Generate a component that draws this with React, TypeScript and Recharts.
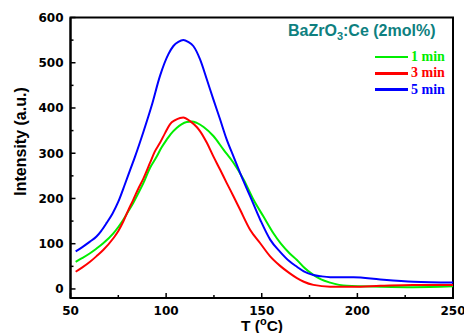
import React from "react";
import {
  LineChart,
  Line,
  XAxis,
  YAxis,
  ReferenceArea,
} from "recharts";

// temperatures (°C) and intensities
const t1 = [52.7, 56, 60.2, 63.5, 67.1, 72.4, 75, 77.6, 80, 82.8, 85.5, 88.1, 91.6, 95, 97.5, 100.3, 102.5, 105.5, 108, 110.8, 113.5, 116, 119.6, 124.7, 130, 135.2, 140.5, 145.7, 150.9, 156.1, 160, 164.5, 168.4, 172, 177, 181, 185.8, 194.5, 212, 229, 250];
const v1 = [60, 68, 79, 89, 101, 123, 137, 153, 170, 190, 212, 234, 268, 292, 312, 330, 343, 356, 364, 369, 370, 367, 358, 338, 308, 279, 242, 197, 160, 123, 100, 79, 64, 48, 31, 21, 14, 7, 5, 4, 6];

const t3 = [52.7, 56, 60.2, 63.5, 67.1, 72.4, 75, 77.6, 80, 82.8, 85.5, 88.1, 91.6, 94, 96.8, 99.5, 102, 104.7, 107.3, 109, 112.5, 116, 117.7, 121.3, 124.7, 128.2, 131.7, 135.2, 138.7, 143.9, 149.2, 154.4, 159.6, 164.5, 168.4, 172, 177, 185.8, 198, 212, 229, 250];
const v3 = [38, 47, 60, 72, 86, 112, 128, 149, 172, 197, 222, 244, 279, 303, 323, 345, 364, 373, 378, 379, 371, 358, 349, 323, 293, 264, 234, 205, 175, 131, 101, 72, 51, 35, 24, 16, 9, 5, 5, 7, 9, 9];

const t5 = [52.7, 56, 60, 63.6, 66, 68.9, 72, 75, 78.5, 81.1, 83.7, 88.1, 92.5, 96.8, 101.2, 103.8, 106.4, 109, 111.5, 114.2, 117.7, 121.3, 124.7, 128.2, 131.7, 135.2, 138.7, 143.9, 149.2, 154.4, 159.6, 164.5, 168.4, 172, 177, 181, 185.8, 198, 212, 229.4, 250];
const v5 = [83, 92, 104, 116, 128, 146, 167, 193, 232, 262, 292, 347, 406, 471, 519, 537, 546, 550, 546, 537, 508, 463, 419, 375, 330, 293, 256, 205, 153, 109, 82, 61, 49, 39, 31, 28, 26, 26, 21, 16, 14];

const xTicks = [50, 75, 100, 125, 150, 175, 200, 225, 250];
const yTicks = [0, 50, 100, 150, 200, 250, 300, 350, 400, 450, 500, 550, 600];

const series = [
  { name: "1 min", t: t1, v: v1, color: "#00ee00" },
  { name: "3 min", t: t3, v: v3, color: "#ff0000" },
  { name: "5 min", t: t5, v: v5, color: "#0000ff" },
];

const tickFont = { fontFamily: "DejaVu Sans", fontWeight: 700, fontSize: 12 };

const XTick = (props: any) => {
  const { x, y, payload } = props;
  const major = payload.value % 50 === 0;
  return (
    <g>
      <line x1={x} y1={y} x2={x} y2={y - (major ? 5 : 3)} stroke="#000" strokeWidth={1.5} />
      {major && (
        <text x={x} y={y + 17} textAnchor="middle" fill="#000" style={tickFont}>
          {payload.value}
        </text>
      )}
    </g>
  );
};

const YTick = (props: any) => {
  const { x, y, payload } = props;
  const major = payload.value % 100 === 0;
  return (
    <g>
      <line x1={x} y1={y} x2={x + (major ? 5 : 3)} y2={y} stroke="#000" strokeWidth={1.5} />
      {major && (
        <text x={x - 7} y={y + 4.5} textAnchor="end" fill="#000" style={tickFont}>
          {payload.value}
        </text>
      )}
    </g>
  );
};

const LegendBox = () => (
  <div style={{ position: "absolute", left: 280, top: 20, width: 170, height: 100 }}>
    <div
      style={{
        position: "absolute",
        left: 8,
        top: 0,
        fontFamily: "Liberation Sans, Arial",
        fontWeight: 700,
        fontSize: 16,
        color: "#0e8080",
        whiteSpace: "nowrap",
        lineHeight: "22px",
      }}
    >
      BaZrO<sub style={{ fontSize: 11, lineHeight: 0 }}>3</sub>:Ce (2mol%)
    </div>
    {series.map((s, i) => (
      <div
        key={s.name}
        style={{
          position: "absolute",
          left: 95,
          top: 29 + i * 16.3,
          height: 16,
          display: "flex",
          alignItems: "center",
          whiteSpace: "nowrap",
        }}
      >
        <div style={{ width: 33, height: 2.5, background: s.color }} />
        <span
          style={{
            marginLeft: 3,
            fontFamily: "Liberation Serif, Times New Roman",
            fontWeight: 700,
            fontSize: 14,
            color: s.color,
            lineHeight: "16px",
          }}
        >
          {s.name}
        </span>
      </div>
    ))}
  </div>
);

export default function App() {
  return (
    <div style={{ position: "absolute", left: 0, top: 0, width: 464, height: 333, background: "#fff" }}>
      <LineChart width={464} height={333} margin={{ top: 17.5, right: 11, left: 0, bottom: 0 }}>
        <XAxis
          type="number"
          dataKey="t"
          domain={[50, 250]}
          ticks={xTicks}
          interval={0}
          tickSize={0}
          tickMargin={0}
          tickLine={false}
          tick={<XTick />}
          height={35}
          axisLine={{ stroke: "#000", strokeWidth: 2 }}
          allowDataOverflow
          label={() => (
            <text
              x={262}
              y={331}
              textAnchor="middle"
              fill="#000"
              style={{ fontFamily: "Liberation Sans, Arial", fontWeight: 700, fontSize: 15.5 }}
            >
              T (<tspan dy={-6} fontSize={11}>o</tspan>
              <tspan dy={6}>C)</tspan>
            </text>
          )}
        />
        <YAxis
          type="number"
          domain={[-20, 600]}
          ticks={yTicks}
          interval={0}
          tickSize={0}
          tickMargin={0}
          tickLine={false}
          tick={<YTick />}
          width={70.5}
          axisLine={{ stroke: "#000", strokeWidth: 2 }}
          allowDataOverflow
          label={() => (
            <text
              x={26}
              y={141.5}
              textAnchor="middle"
              fill="#000"
              transform="rotate(-90 26 141.5)"
              style={{ fontFamily: "Liberation Sans, Arial", fontWeight: 700, fontSize: 16 }}
            >
              Intensity (a.u.)
            </text>
          )}
        />
        <ReferenceArea
          x1={50}
          x2={250}
          y1={-20}
          y2={600}
          fill="none"
          stroke="#000"
          strokeWidth={2}
          ifOverflow="visible"
        />
        {series.map((s) => (
          <Line
            key={s.name}
            name={s.name}
            data={s.t.map((t, i) => ({ t, v: s.v[i] }))}
            dataKey="v"
            type="monotone"
            stroke={s.color}
            strokeWidth={2}
            dot={false}
            isAnimationActive={false}
          />
        ))}
      </LineChart>
      <LegendBox />
    </div>
  );
}
